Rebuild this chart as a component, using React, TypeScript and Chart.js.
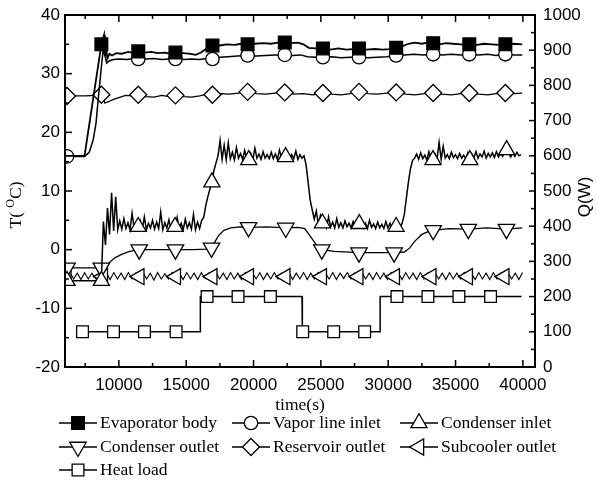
import React, { useEffect, useRef } from 'react';
import { Chart, registerables } from 'chart.js';

Chart.register(...registerables);

// ---------- axis ranges & ticks ----------
const X_MIN = 6000;
const X_MAX = 40900;
const xTickValues = [10000, 15000, 20000, 25000, 30000, 35000, 40000];
const xMinorTicks = [7500, 12500, 17500, 22500, 27500, 32500, 37500];
const yTickValues = [-20, -10, 0, 10, 20, 30, 40];
const yMinorTicks = [-15, -5, 5, 15, 25, 35];
const y2TickValues = [0, 100, 200, 300, 400, 500, 600, 700, 800, 900, 1000];
const y2MinorTicks = [50, 150, 250, 350, 450, 550, 650, 750, 850, 950];

// ---------- Evaporator body ----------
const evapTimes = [6000, 7450, 8700, 8900, 8960, 9050, 9150, 9300, 9500, 9800, 10200, 10700, 11100, 11440, 11900, 12400, 12900, 13400, 13800, 14200, 14700, 15200, 15700, 16100, 16500, 16950, 17500, 18000, 18600, 19100, 19560, 20100, 20700, 21300, 21800, 22320, 22800, 23300, 23700, 24100, 24600, 25150, 25700, 26300, 26900, 27400, 27830, 28400, 29000, 29600, 30100, 30590, 31000, 31500, 32000, 32500, 32900, 33340, 33800, 34300, 34800, 35400, 36020, 36600, 37100, 37700, 38200, 38700, 39300, 39950];
const evapValues = [16.0, 16.0, 35.0, 36.6, 33.0, 34.3, 32.6, 33.4, 33.1, 33.5, 33.4, 33.7, 33.5, 33.8, 33.6, 33.7, 33.5, 33.6, 33.4, 33.6, 33.5, 33.4, 33.2, 33.6, 34.3, 34.8, 34.8, 35.0, 34.9, 35.1, 35.0, 35.1, 35.2, 35.1, 35.3, 35.3, 35.2, 35.3, 35.0, 34.4, 34.3, 34.3, 34.1, 34.3, 34.1, 34.2, 34.3, 34.1, 34.2, 34.1, 34.2, 34.4, 34.6, 35.1, 35.3, 35.1, 35.3, 35.2, 35.0, 35.2, 35.1, 35.0, 35.0, 34.9, 35.1, 35.0, 34.9, 35.0, 35.1, 35.0];
const evapMarks = [8700, 11440, 14200, 16950, 19560, 22320, 25150, 27830, 30590, 33340, 36020, 38700];

// ---------- Vapor line inlet ----------
const vaporTimes = [6000, 6150, 7450, 7800, 8090, 8300, 8460, 8650, 8830, 8950, 9100, 9300, 9600, 10000, 10600, 11100, 11440, 12000, 12600, 13200, 13700, 14200, 14800, 15400, 16000, 16500, 16950, 17500, 18100, 18800, 19560, 20200, 20900, 21600, 22320, 22900, 23500, 24000, 24600, 25150, 25800, 26500, 27200, 27830, 28500, 29200, 29900, 30590, 31200, 31900, 32600, 33340, 34000, 34700, 35400, 36020, 36700, 37400, 38000, 38700, 39300, 39950];
const vaporValues = [15.9, 15.9, 15.9, 16.6, 18.7, 21.5, 25.5, 30.0, 34.0, 33.2, 31.8, 32.2, 32.4, 32.5, 32.4, 32.6, 32.5, 32.5, 32.6, 32.4, 32.5, 32.5, 32.4, 32.5, 32.4, 32.6, 32.5, 32.8, 32.9, 33.0, 33.1, 33.0, 33.1, 33.2, 33.2, 33.1, 33.2, 32.9, 32.8, 32.8, 32.9, 32.7, 32.8, 32.8, 32.7, 32.8, 32.9, 33.1, 33.2, 33.3, 33.2, 33.3, 33.2, 33.3, 33.2, 33.3, 33.2, 33.3, 33.1, 33.3, 33.2, 33.2];
const vaporMarks = [6150, 11440, 14200, 16950, 19560, 22320, 25150, 27830, 30590, 33340, 36020, 38700];

// ---------- Condenser inlet (noisy, sampled every 152 s after the lead-in) ----------
const condInLeadTimes = [6000, 6150];
const condInLeadValues = [-5.3, -5.3];
const condInStart = 8700;
const condInStep = 152;
const condInValues = [
  -5.3, 4.8, 0.8, 7.1, 2.6, 9.7, 3.2, 9.0, 3.4, 4.9,
  3.5, 5.3, 3.6, 4.6, 3.4, 6.2, 3.7, 4.5, 3.9, 4.9,
  3.5, 5.6, 3.4, 4.5, 3.7, 5.0, 3.5, 4.7, 3.6, 6.4,
  3.4, 4.6, 3.7, 5.1, 3.5, 4.7, 3.9, 5.5, 3.6, 4.5,
  3.4, 5.2, 3.7, 4.6, 3.5, 6.0, 3.4, 4.7, 3.6, 5.0,
  5.5, 7.5, 9.0, 10.3, 11.5, 13.5, 14.8, 16.0, 18.6, 15.4,
  17.8, 15.3, 18.2, 15.5, 16.6, 15.3, 17.4, 15.6, 16.4, 15.4,
  16.9, 15.5, 15.3, 16.4, 15.4, 17.3, 15.6, 16.3, 15.4, 16.7,
  15.6, 16.2, 15.5, 16.6, 15.5, 16.3, 15.4, 17.0, 15.6, 16.2,
  15.8, 16.4, 15.5, 16.2, 15.5, 16.8, 15.4, 16.2, 15.6, 16.0,
  14.5, 11.5, 8.5, 6.8, 5.2, 6.6, 4.3, 5.8, 4.5, 5.2,
  3.8, 5.6, 3.9, 4.7, 3.7, 5.3, 3.8, 4.6, 3.7, 4.9,
  3.9, 4.5, 3.7, 4.8, 3.8, 4.6, 4.4, 4.9, 3.7, 4.5,
  3.6, 5.0, 3.8, 4.4, 3.6, 4.7, 3.7, 4.3, 3.6, 4.8,
  3.7, 4.5, 3.6, 4.6, 3.9, 4.4, 3.7, 4.6, 6.0, 8.8,
  11.5, 13.8, 15.2, 15.6, 16.3, 15.4, 16.5, 15.5, 16.1, 15.3,
  16.7, 15.4, 15.3, 16.3, 15.5, 18.3, 15.4, 17.6, 15.6, 16.2,
  15.5, 16.6, 15.7, 16.2, 15.5, 16.4, 15.6, 16.1, 15.5, 16.5,
  15.3, 16.3, 15.7, 16.7, 15.6, 16.3, 15.8, 16.8, 15.6, 16.4,
  15.8, 16.5, 15.7, 16.7, 15.8, 16.4, 15.9, 16.6, 17.0, 16.4,
  15.8, 16.5, 15.9, 16.6, 16.0, 16.2,
];
const condInMarks = [6150, 8700, 11436, 14172, 16908, 19644, 22380, 25116, 27852, 30588, 33324, 36060, 38796];

// ---------- Condenser outlet ----------
const condOutTimes = [6000, 6150, 8700, 8850, 9000, 9300, 9700, 10200, 10800, 11510, 12800, 14200, 15500, 16500, 16880, 17100, 17400, 17800, 18300, 19000, 19630, 21000, 22390, 23300, 23800, 24300, 24700, 25070, 26000, 27830, 29000, 30440, 31200, 31600, 32000, 32500, 33000, 33340, 34500, 35950, 37300, 38780, 39950];
const condOutValues = [-3.1, -3.1, -3.1, -3.0, -2.8, -2.2, -1.4, -0.8, -0.3, 0.0, 0.0, 0.0, 0.0, 0.1, 0.3, 1.2, 2.4, 3.3, 3.7, 3.9, 3.8, 3.9, 3.7, 3.8, 3.6, 2.0, 0.7, 0.0, -0.3, -0.5, -0.5, -0.5, -0.4, 0.3, 1.5, 2.6, 3.1, 3.3, 3.6, 3.5, 3.7, 3.5, 3.7];
const condOutMarks = [6150, 8700, 11510, 14200, 16880, 19630, 22390, 25070, 27830, 30440, 33340, 35950, 38780];

// ---------- Reservoir outlet ----------
const resTimes = [6000, 6150, 7500, 8300, 8700, 8850, 8950, 9100, 9300, 9600, 10000, 10500, 11000, 11440, 12000, 12600, 13200, 13700, 14200, 14800, 15400, 16000, 16500, 16950, 17600, 18200, 18900, 19560, 20200, 20900, 21600, 22320, 23000, 23700, 24400, 25150, 25800, 26500, 27200, 27830, 28500, 29200, 29900, 30590, 31300, 32000, 32700, 33340, 34000, 34700, 35400, 36020, 36700, 37400, 38000, 38700, 39300, 39950];
const resValues = [26.2, 26.2, 26.2, 26.3, 26.4, 25.8, 25.0, 25.1, 25.3, 25.6, 25.9, 26.3, 26.2, 26.4, 26.1, 26.0, 26.3, 26.1, 26.3, 26.1, 26.0, 26.2, 26.5, 26.4, 26.6, 26.5, 26.7, 26.9, 26.6, 26.5, 26.7, 26.8, 26.5, 26.6, 26.4, 26.7, 26.5, 26.4, 26.6, 26.9, 26.6, 26.5, 26.7, 26.8, 26.5, 26.4, 26.6, 26.7, 26.5, 26.4, 26.6, 26.7, 26.5, 26.4, 26.6, 26.7, 26.6, 26.7];
const resMarks = [6150, 8700, 11440, 14200, 16950, 19560, 22320, 25150, 27830, 30590, 33340, 36020, 38700];

// ---------- Subcooler outlet (zig-zag, sampled every 271 s) ----------
const subStart = 6100;
const subStep = 271;
const subValues = [
  -4.6, -3.9, -5.0, -4.0, -5.1, -3.9, -5.0, -4.0, -4.9, -3.9,
  -4.6, -4.0, -5.1, -3.9, -5.0, -4.0, -5.1, -3.9, -5.0, -4.0,
  -4.6, -3.9, -5.0, -4.0, -5.2, -3.9, -5.0, -4.1, -5.0, -3.9,
  -4.6, -4.0, -5.1, -3.9, -5.0, -4.0, -5.1, -3.9, -4.9, -4.0,
  -4.6, -3.9, -5.0, -4.0, -5.1, -3.9, -5.0, -4.0, -5.1, -3.9,
  -4.6, -4.0, -5.0, -3.9, -5.1, -4.0, -5.0, -3.9, -5.0, -4.0,
  -4.6, -3.9, -5.1, -4.0, -5.0, -3.9, -5.1, -4.0, -5.0, -3.9,
  -4.6, -4.0, -5.0, -3.9, -5.1, -4.0, -4.9, -3.9, -5.0, -4.0,
  -4.6, -3.9, -5.0, -4.0, -5.1, -3.9, -5.0, -4.0, -5.1, -3.9,
  -4.6, -4.0, -5.1, -3.9, -5.0, -4.0, -5.1, -3.9, -5.0, -4.0,
  -4.6, -3.9, -5.0, -4.0, -5.1, -3.9, -5.0, -4.0, -5.0, -3.9,
  -4.6, -4.0, -5.1, -3.9, -5.0, -4.0, -5.1, -3.9, -5.0, -4.0,
  -4.6, -3.9, -5.0, -4.0, -5.1, -3.9,
];
const subMarks = [6100, 8810, 11520, 14230, 16940, 19650, 22360, 25070, 27780, 30490, 33200, 35910, 38620];

// ---------- Heat load (right axis, W) ----------
const heatTimes = [7300, 9600, 11900, 14250, 16050, 16050, 16550, 18850, 21250, 23600, 23600, 23650, 25950, 28250, 29400, 29400, 30650, 32950, 35250, 37600, 39900];
const heatValues = [100, 100, 100, 100, 100, 200, 200, 200, 200, 200, 100, 100, 100, 100, 100, 200, 200, 200, 200, 200, 200];
const heatMarks = [7300, 9600, 11900, 14250, 16550, 18850, 21250, 23650, 25950, 28250, 30650, 32950, 35250, 37600];

const gridTimes = (start: number, step: number, n: number) => Array.from({ length: n }, (_, i) => start + i * step);

type Series = {
  label: string; times: number[]; values: number[]; marks: number[];
  style: string; rot: number; fill: string; r: number; axis: string; width: number;
};

const series: Series[] = [
  { label: 'Evaporator body', times: evapTimes, values: evapValues, marks: evapMarks, style: 'rect', rot: 0, fill: '#000', r: 9, axis: 'y', width: 1.8 },
  { label: 'Vapor line inlet', times: vaporTimes, values: vaporValues, marks: vaporMarks, style: 'circle', rot: 0, fill: '#fff', r: 6.7, axis: 'y', width: 1.5 },
  { label: 'Condenser inlet', times: [...condInLeadTimes, ...gridTimes(condInStart, condInStep, condInValues.length)], values: [...condInLeadValues, ...condInValues], marks: condInMarks, style: 'triangle', rot: 0, fill: '#fff', r: 9.3, axis: 'y', width: 1.5 },
  { label: 'Condenser outlet', times: condOutTimes, values: condOutValues, marks: condOutMarks, style: 'triangle', rot: 180, fill: '#fff', r: 9.5, axis: 'y', width: 1.3 },
  { label: 'Reservoir outlet', times: resTimes, values: resValues, marks: resMarks, style: 'rectRot', rot: 0, fill: '#fff', r: 8.5, axis: 'y', width: 1.3 },
  { label: 'Subcooler outlet', times: gridTimes(subStart, subStep, subValues.length), values: subValues, marks: subMarks, style: 'triangle', rot: -90, fill: '#fff', r: 9.3, axis: 'y', width: 1.1 },
  { label: 'Heat load', times: heatTimes, values: heatValues, marks: heatMarks, style: 'rect', rot: 0, fill: '#fff', r: 8.3, axis: 'y2', width: 1.5 },
];

// legend layout
const legendRows = [423, 447, 470];
const legendCols = [59, 232, 400];

function drawMarker(ctx: CanvasRenderingContext2D, style: string, x: number, y: number, r: number, rotDeg: number, fill: string) {
  ctx.beginPath();
  let rad = (rotDeg * Math.PI) / 180;
  if (style === 'circle') {
    ctx.arc(x, y, r, 0, Math.PI * 2);
  } else if (style === 'rect') {
    const s = Math.SQRT1_2 * r;
    ctx.rect(x - s, y - s, 2 * s, 2 * s);
  } else if (style === 'rectRot') {
    ctx.moveTo(x, y - r);
    ctx.lineTo(x + r, y);
    ctx.lineTo(x, y + r);
    ctx.lineTo(x - r, y);
    ctx.closePath();
  } else if (style === 'triangle') {
    const T = (2 * Math.PI) / 3;
    ctx.moveTo(x + Math.sin(rad) * r, y - Math.cos(rad) * r);
    rad += T;
    ctx.lineTo(x + Math.sin(rad) * r, y - Math.cos(rad) * r);
    rad += T;
    ctx.lineTo(x + Math.sin(rad) * r, y - Math.cos(rad) * r);
    ctx.closePath();
  }
  ctx.fillStyle = fill;
  ctx.fill();
  ctx.stroke();
}

const overlay = {
  id: 'overlay',
  afterDraw(chart: any) {
    const ctx: CanvasRenderingContext2D = chart.ctx;
    const a = chart.chartArea;
    const sx = chart.scales.x, sy = chart.scales.y, sy2 = chart.scales.y2;
    ctx.save();
    ctx.strokeStyle = '#000';
    ctx.lineWidth = 2;
    ctx.strokeRect(a.left, a.top, a.right - a.left, a.bottom - a.top);
    ctx.lineWidth = 1.5;
    const seg = (x1: number, y1: number, x2: number, y2: number) => {
      ctx.beginPath(); ctx.moveTo(x1, y1); ctx.lineTo(x2, y2); ctx.stroke();
    };
    xTickValues.forEach((v) => { const p = sx.getPixelForValue(v); seg(p, a.bottom, p, a.bottom - 7); seg(p, a.top, p, a.top + 7); });
    xMinorTicks.forEach((v) => { const p = sx.getPixelForValue(v); seg(p, a.bottom, p, a.bottom - 4); seg(p, a.top, p, a.top + 4); });
    yTickValues.forEach((v) => { const p = sy.getPixelForValue(v); seg(a.left, p, a.left + 7, p); });
    yMinorTicks.forEach((v) => { const p = sy.getPixelForValue(v); seg(a.left, p, a.left + 4, p); });
    y2TickValues.forEach((v) => { const p = sy2.getPixelForValue(v); seg(a.right, p, a.right - 6, p); });
    y2MinorTicks.forEach((v) => { const p = sy2.getPixelForValue(v); seg(a.right, p, a.right - 4, p); });

    // axis titles
    ctx.fillStyle = '#000';
    ctx.textBaseline = 'middle';
    ctx.textAlign = 'center';
    ctx.font = '17.5px "Liberation Serif"';
    ctx.fillText('time(s)', (a.left + a.right) / 2, 405);

    ctx.save();
    ctx.translate(16, 205);
    ctx.rotate(-Math.PI / 2);
    ctx.textAlign = 'left';
    const mainFont = '17.5px "Liberation Serif"';
    const supFont = '12px "Liberation Serif"';
    ctx.font = mainFont;
    const p1 = 'T( ', p3 = 'C)';
    const w1 = ctx.measureText(p1).width, w3 = ctx.measureText(p3).width;
    ctx.font = supFont;
    const w2 = ctx.measureText('O').width;
    let x0 = -(w1 + w2 + w3) / 2;
    ctx.font = mainFont; ctx.fillText(p1, x0, 0); x0 += w1;
    ctx.font = supFont; ctx.fillText('O', x0, -5); x0 += w2;
    ctx.font = mainFont; ctx.fillText(p3, x0, 0);
    ctx.restore();

    ctx.save();
    ctx.translate(585, 197);
    ctx.rotate(-Math.PI / 2);
    ctx.textAlign = 'center';
    ctx.font = '17px "Liberation Sans"';
    ctx.fillText('Q(W)', 0, 0);
    ctx.restore();

    // legend
    ctx.font = '17.5px "Liberation Serif"';
    ctx.textAlign = 'left';
    series.forEach((s, i) => {
      const row = Math.floor(i / 3), col = i % 3;
      const x = legendCols[col], y = legendRows[row];
      ctx.strokeStyle = '#000';
      ctx.lineWidth = 1.5;
      seg(x, y, x + 38, y);
      ctx.lineWidth = 1.3;
      drawMarker(ctx, s.style, x + 19, y, s.r, s.rot, s.fill);
      ctx.fillStyle = '#000';
      ctx.fillText(s.label, x + 41, y);
    });
    ctx.restore();
  },
};

export default function App() {
  const ref = useRef<HTMLCanvasElement | null>(null);
  useEffect(() => {
    if (!ref.current) return;
    const tickFont = { family: '"Liberation Sans"', size: 17 };
    const datasets = series.map((s) => {
      const markSet = new Set(s.marks);
      return {
        label: s.label,
        data: s.times.map((t, i) => ({ x: t, y: s.values[i] })),
        yAxisID: s.axis,
        borderColor: '#000',
        borderWidth: s.width,
        tension: 0,
        pointStyle: s.style,
        pointRotation: s.rot,
        pointRadius: (c: any) => (c.raw && markSet.has(c.raw.x) ? s.r : 0),
        pointHoverRadius: 0,
        pointBackgroundColor: s.fill,
        pointBorderColor: '#000',
        pointBorderWidth: 1.3,
      };
    });
    const chart = new Chart(ref.current, {
      type: 'line',
      data: { datasets },
      options: {
        responsive: false,
        animation: false,
        devicePixelRatio: 1,
        events: [],
        layout: { padding: { top: 15, left: 0, right: 0, bottom: 0 } },
        plugins: { legend: { display: false }, tooltip: { enabled: false }, title: { display: false } },
        scales: {
          x: {
            type: 'linear', position: 'bottom', min: X_MIN, max: X_MAX,
            grid: { display: false, drawTicks: false }, border: { display: false },
            afterBuildTicks: (sc: any) => { sc.ticks = xTickValues.map((v) => ({ value: v })); },
            afterFit: (sc: any) => { sc.height = 116; sc.paddingLeft = 0; sc.paddingRight = 0; },
            ticks: { font: tickFont, color: '#000', padding: 8, autoSkip: false, maxRotation: 0, callback: (v: any) => String(v) },
          },
          y: {
            type: 'linear', position: 'left', min: -20, max: 40,
            grid: { display: false, drawTicks: false }, border: { display: false },
            afterBuildTicks: (sc: any) => { sc.ticks = yTickValues.map((v) => ({ value: v })); },
            afterFit: (sc: any) => { sc.width = 65; sc.paddingTop = 0; sc.paddingBottom = 0; },
            ticks: { font: tickFont, color: '#000', padding: 5, autoSkip: false, callback: (v: any) => String(v) },
          },
          y2: {
            type: 'linear', position: 'right', min: 0, max: 1000,
            grid: { display: false, drawTicks: false }, border: { display: false },
            afterBuildTicks: (sc: any) => { sc.ticks = y2TickValues.map((v) => ({ value: v })); },
            afterFit: (sc: any) => { sc.width = 62; sc.paddingTop = 0; sc.paddingBottom = 0; },
            ticks: { font: tickFont, color: '#000', padding: 8, autoSkip: false, callback: (v: any) => String(v) },
          },
        },
      },
      plugins: [overlay],
    } as any);
    return () => chart.destroy();
  }, []);
  return (
    <div style={{ position: 'fixed', left: 0, top: 0, width: 597, height: 483, background: '#fff' }}>
      <canvas ref={ref} width={597} height={483} style={{ width: 597, height: 483, display: 'block' }} />
    </div>
  );
}
